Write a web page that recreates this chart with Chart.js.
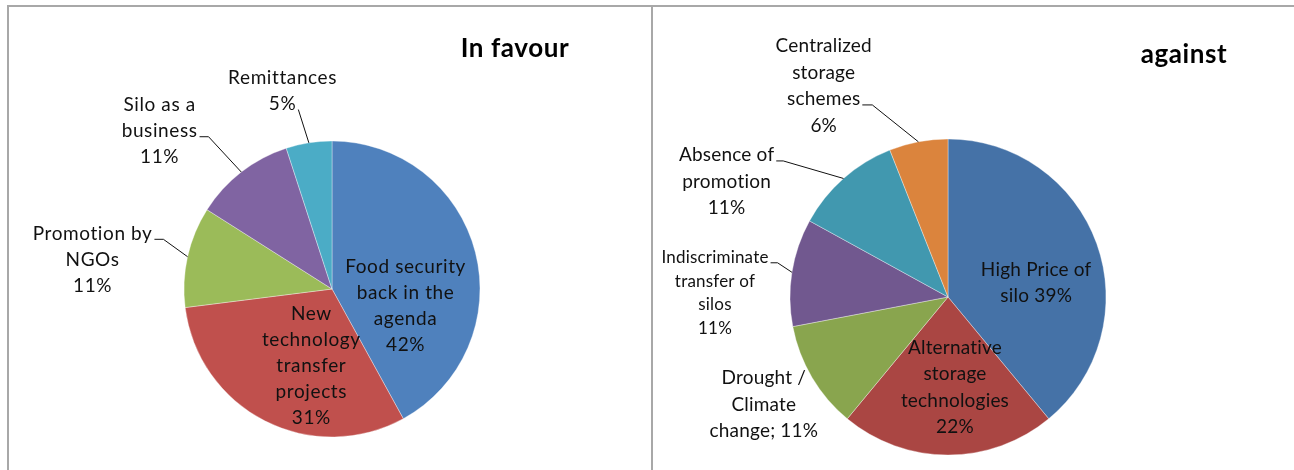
<!DOCTYPE html>
<html>
<head>
<meta charset="utf-8">
<title>In favour / against</title>
<script src="https://cdn.jsdelivr.net/npm/chart.js@4.4.1/dist/chart.umd.min.js"></script>
<style>
  body { margin: 0; background: #fff; width: 1294px; height: 470px; overflow: hidden; position: relative; font-family: Lato, sans-serif; }
  .rule { position: absolute; background: #a8a8a8; }
  #ruleTop { left: 7px; top: 5px; width: 1287px; height: 2px; }
  #ruleLeft { left: 7px; top: 5px; width: 2px; height: 470px; }
  #ruleMid { left: 651px; top: 5px; width: 2px; height: 470px; }
  canvas { position: absolute; }
  #favour { left: 9px; top: 7px; }
  #against { left: 653px; top: 7px; }
</style>
</head>
<body>
<div class="rule" id="ruleTop"></div>
<div class="rule" id="ruleLeft"></div>
<div class="rule" id="ruleMid"></div>
<canvas id="favour" width="642" height="463"></canvas>
<canvas id="against" width="641" height="463"></canvas>
<script>
// --- data ---
const favourCategories = ['Food security back in the agenda', 'New technology transfer projects', 'Promotion by NGOs', 'Silo as a business', 'Remittances'];
const favourValues = [42, 31, 11, 11, 5];
const favourColors = ['#4f81bd', '#c0504d', '#9bbb59', '#8064a2', '#4bacc6'];
// how each data label wraps, {v} = value
const favourLabelLines = [
  ['Food security', 'back in the', 'agenda', '{v}%'],
  ['New', 'technology', 'transfer', 'projects', '{v}%'],
  ['Promotion by', 'NGOs', '{v}%'],
  ['Silo as a', 'business', '{v}%'],
  ['Remittances', '{v}%']
];

const againstCategories = ['High Price of silo', 'Alternative storage technologies', 'Drought / Climate change', 'Indiscriminate transfer of silos', 'Absence of promotion', 'Centralized storage schemes'];
const againstValues = [39, 22, 11, 11, 11, 6];
const againstColors = ['#4572a7', '#aa4643', '#89a54e', '#71588f', '#4198af', '#db843d'];
const againstLabelLines = [
  ['High Price of', 'silo {v}%'],
  ['Alternative', 'storage', 'technologies', '{v}%'],
  ['Drought /', 'Climate', 'change; {v}%'],
  ['Indiscriminate', 'transfer of', 'silos', '{v}%'],
  ['Absence of', 'promotion', '{v}%'],
  ['Centralized', 'storage', 'schemes', '{v}%']
];

// label placement: angle (deg, clockwise from top) and distance in radii from the pie centre
const favourPlace = [
  { ang: 103, rf: 0.51 },
  { ang: 195, rf: 0.54 },
  { ang: 277, rf: 1.63, leader: 0, horiz: 9 },
  { ang: 312.5, rf: 1.58, leader: 1, horiz: 9 },
  { ang: 346, rf: 1.38, leader: 1, horiz: 0 }
];
const againstPlace = [
  { ang: 81, rf: 0.565 },
  { ang: 175.6, rf: 0.575 },
  { ang: 239.7, rf: 1.35 },
  { ang: 271, rf: 1.475, size: 17, lh: 23.5, leader: 0, horiz: 7 },
  { ang: 297.5, rf: 1.58, leader: 0, horiz: 7 },
  { ang: 329.5, rf: 1.55, leader: 2, horiz: 10 }
];

const pieLabels = {
  id: 'pieLabels',
  afterDraw(chart, args, opts) {
    const ctx = chart.ctx;
    const arcs = chart.getDatasetMeta(0).data;
    const values = chart.data.datasets[0].data;
    ctx.save();
    ctx.fillStyle = '#111';
    ctx.strokeStyle = '#111';
    ctx.lineWidth = 1;
    ctx.textAlign = 'center';
    ctx.textBaseline = 'middle';
    ctx.letterSpacing = opts.spacing;
    opts.place.forEach((p, i) => {
      const { x, y, outerRadius, startAngle, endAngle } =
        arcs[i].getProps(['x', 'y', 'outerRadius', 'startAngle', 'endAngle'], true);
      const a = p.ang * Math.PI / 180;
      const cx = x + Math.sin(a) * p.rf * outerRadius;
      const cy = y - Math.cos(a) * p.rf * outerRadius;
      const lines = opts.lines[i].map(s => s.replace('{v}', values[i]));
      const size = p.size || opts.size;
      const lh = p.lh || opts.lh;
      ctx.font = size + 'px Lato';
      const top = cy - (lines.length - 1) * lh / 2;
      lines.forEach((s, k) => ctx.fillText(s, cx, top + k * lh));
      if (p.leader != null) {
        const w = ctx.measureText(lines[p.leader]).width;
        const sx = cx + w / 2 + 2;
        const sy = top + p.leader * lh + size * 0.3;
        const mid = (startAngle + endAngle) / 2;
        ctx.beginPath();
        ctx.moveTo(sx, sy);
        ctx.lineTo(sx + p.horiz, sy);
        ctx.lineTo(x + Math.cos(mid) * outerRadius, y + Math.sin(mid) * outerRadius);
        ctx.stroke();
      }
    });
    ctx.font = 'bold 26px Lato';
    ctx.letterSpacing = '0.6px';
    ctx.textBaseline = 'alphabetic';
    ctx.fillStyle = '#000';
    ctx.fillText(opts.title.text, opts.title.x, opts.title.y);
    ctx.restore();
  }
};

function makePie(id, labels, values, colors, radius, padding, labelOpts) {
  return new Chart(document.getElementById(id), {
    type: 'pie',
    data: {
      labels: labels,
      datasets: [{
        data: values,
        backgroundColor: colors,
        borderColor: 'rgba(255,255,255,0.35)',
        borderWidth: 1,
        radius: radius
      }]
    },
    options: {
      responsive: false,
      animation: false,
      devicePixelRatio: 1,
      layout: { padding: padding },
      plugins: {
        legend: { display: false },
        tooltip: { enabled: false },
        pieLabels: labelOpts
      }
    },
    plugins: [pieLabels]
  });
}

makePie('favour', favourCategories, favourValues, favourColors, 148,
  { left: 4, right: 0, top: 101, bottom: 0 },
  { place: favourPlace, lines: favourLabelLines, size: 19, lh: 26, spacing: '0.6px',
    title: { text: 'In favour', x: 506, y: 50 } });

makePie('against', againstCategories, againstValues, againstColors, 158,
  { left: 0, right: 51, top: 117, bottom: 0 },
  { place: againstPlace, lines: againstLabelLines, size: 19, lh: 26.5, spacing: '0.2px',
    title: { text: 'against', x: 531, y: 56 } });
</script>
</body>
</html>
